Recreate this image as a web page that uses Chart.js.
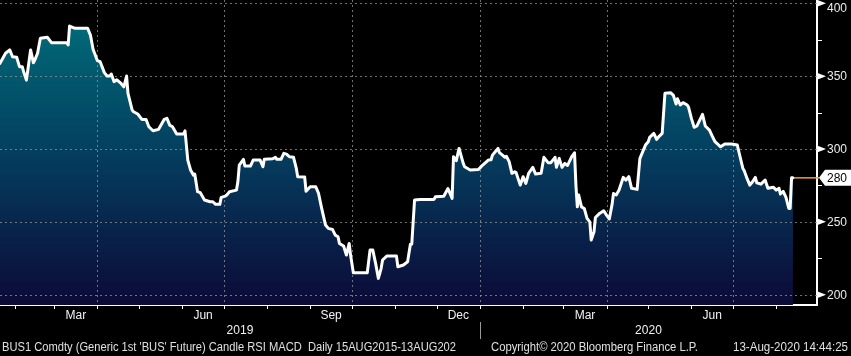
<!DOCTYPE html>
<html><head><meta charset="utf-8">
<script src="https://cdn.jsdelivr.net/npm/chart.js@4"></script>
<style>html,body{margin:0;padding:0;background:#000;overflow:hidden}#wrap{width:851px;height:356px;position:relative}</style>
</head><body><div id="wrap"><canvas id="c" width="851" height="356"></canvas></div>
<script>
// ---- data ----
const dates = [
'2019-01-21','2019-01-25','2019-01-28','2019-01-30',
'2019-02-02','2019-02-04','2019-02-06','2019-02-07','2019-02-09','2019-02-12','2019-02-14','2019-02-15','2019-02-17','2019-02-19','2019-02-24','2019-02-27',
'2019-03-10','2019-03-11','2019-03-12','2019-03-16','2019-03-25','2019-03-27','2019-03-29','2019-03-30',
'2019-04-01','2019-04-03','2019-04-06','2019-04-08','2019-04-10','2019-04-11','2019-04-13','2019-04-15','2019-04-18','2019-04-20','2019-04-22','2019-04-23','2019-04-26','2019-04-27','2019-04-30',
'2019-05-03','2019-05-06','2019-05-08','2019-05-11','2019-05-15','2019-05-19','2019-05-21','2019-05-23','2019-05-25','2019-05-28',
'2019-06-02','2019-06-03','2019-06-05','2019-06-07','2019-06-09','2019-06-10','2019-06-12','2019-06-14','2019-06-17','2019-06-21','2019-06-23','2019-06-25','2019-06-28','2019-06-29',
'2019-07-02','2019-07-03','2019-07-05','2019-07-10','2019-07-11','2019-07-12','2019-07-15','2019-07-16','2019-07-20','2019-07-22','2019-07-27','2019-07-29','2019-07-30',
'2019-08-05','2019-08-07','2019-08-08','2019-08-11','2019-08-13','2019-08-15','2019-08-17','2019-08-20','2019-08-22','2019-08-23','2019-08-28','2019-08-29',
'2019-09-01','2019-09-05','2019-09-07','2019-09-09','2019-09-12','2019-09-14','2019-09-17','2019-09-19','2019-09-21','2019-09-22','2019-09-25','2019-09-27','2019-09-29','2019-09-30',
'2019-10-02','2019-10-12','2019-10-14','2019-10-16','2019-10-18','2019-10-20','2019-10-22','2019-10-23','2019-10-26',
'2019-11-02','2019-11-03','2019-11-07','2019-11-10','2019-11-12','2019-11-13','2019-11-15','2019-11-19','2019-11-29','2019-11-30',
'2019-12-06','2019-12-09','2019-12-12','2019-12-13','2019-12-15','2019-12-17','2019-12-18','2019-12-20','2019-12-21','2019-12-25','2019-12-31',
'2020-01-03','2020-01-07','2020-01-09','2020-01-10','2020-01-12','2020-01-14','2020-01-15','2020-01-17','2020-01-19','2020-01-20','2020-01-22','2020-01-24','2020-01-26','2020-01-27','2020-01-30',
'2020-02-01','2020-02-03','2020-02-05','2020-02-08','2020-02-10','2020-02-14','2020-02-16','2020-02-19','2020-02-21','2020-02-24','2020-02-25','2020-02-27','2020-02-29',
'2020-03-02','2020-03-04','2020-03-07','2020-03-09','2020-03-10','2020-03-11','2020-03-12','2020-03-14','2020-03-16','2020-03-18','2020-03-20','2020-03-21','2020-03-23','2020-03-24','2020-03-27','2020-03-30',
'2020-04-01','2020-04-03','2020-04-05','2020-04-06','2020-04-08','2020-04-10','2020-04-13','2020-04-15','2020-04-17','2020-04-19','2020-04-23','2020-04-25','2020-04-26','2020-04-29',
'2020-05-01','2020-05-02','2020-05-05','2020-05-07','2020-05-09','2020-05-11','2020-05-13','2020-05-17','2020-05-19','2020-05-21','2020-05-22','2020-05-24','2020-05-26','2020-05-29','2020-05-30',
'2020-06-01','2020-06-03','2020-06-05','2020-06-07','2020-06-09','2020-06-11','2020-06-14','2020-06-16','2020-06-18','2020-06-22','2020-06-25','2020-06-30',
'2020-07-04','2020-07-06','2020-07-08','2020-07-09','2020-07-11','2020-07-13','2020-07-15','2020-07-17','2020-07-18','2020-07-21','2020-07-24','2020-07-26','2020-07-30',
'2020-08-01','2020-08-03','2020-08-04','2020-08-06','2020-08-08','2020-08-10','2020-08-11','2020-08-12','2020-08-13'
];
const values = [
358.8,365.7,368,363.3,
363,356.5,356.5,353,347.3,368,359.2,361,365.7,376,376.7,373,
373,371.4,384.4,382.8,382.8,378.2,368,365.7,
360.6,359.9,352.4,350.1,350.1,351.5,346.2,347.5,345,342.7,350.1,338.2,326.7,325.6,324,
320.3,320.3,315.3,312.5,313.5,320.3,321,316.4,315.3,310.3,
310.3,312.5,292.4,285.6,282.1,282.8,270.7,270,265,263.8,263.8,262,262,266.8,
267.7,268.4,270.7,271.8,277.5,289,292.9,288.3,288.3,292.4,292.4,287.8,292.9,
293.3,294.3,292.9,292.9,297,296.5,294.7,294.3,286.7,281,280.8,271,
274.1,274.1,269.5,260.3,247.8,245.5,244.8,240.9,239.8,235.2,233.4,227.2,235.2,227.2,
215,215,230.6,230.6,221.5,211.2,218.1,223.8,226.5,
226.5,219.2,220.4,222.6,234.7,234.7,265,265.4,265.4,267.2,
267.6,272.9,266.1,294.7,292,300.4,297,290.1,287.8,285.6,286,
289,292.4,292.6,295.8,298.1,300.4,297.5,296,294.3,295,291.3,283.3,284.4,283.8,275.2,
281,276.4,283.3,287.4,282.8,283.3,294.3,290.6,290.6,294.3,287.4,293.6,287.4,
290.1,288.7,294.7,297.4,275.2,260.3,268.4,260.3,259.2,252.4,250,237.5,243.2,253,255.8,257.6,
254.6,252,262,269.5,268.4,271.8,280.5,278.7,281,273,272.3,293.6,295.8,302.7,
305,308,310.7,306.6,308.9,310.7,338.2,338.6,337,330.9,334.5,330.2,331.8,330.2,328.6,
321,314.9,315.8,319.9,323.8,315.8,313,308.9,305,301.5,303.4,303.4,
302.7,294.7,286.7,285,279.8,275.2,277.5,280.5,276.8,275.9,278.7,273,273.7,
271.8,273,269.1,271,266.8,259.2,259.2,280.2,280.2
];
const yTicks = [200, 250, 300, 350, 400];
const yMinorTicks = [225, 275, 325, 375];
const monthTicks = ['2019-02-01','2019-03-01','2019-04-01','2019-05-01','2019-06-01','2019-07-01','2019-08-01','2019-09-01','2019-10-01','2019-11-01','2019-12-01',
  '2020-01-01','2020-02-01','2020-03-01','2020-04-01','2020-05-01','2020-06-01','2020-07-01','2020-08-01'];
const quarterGrid = ['2019-04-01','2019-07-01','2019-10-01','2020-01-01','2020-04-01','2020-07-01'];
const monthLabels = ['Mar','Jun','Sep','Dec','Mar','Jun'];
const monthLabelSpans = [['2019-03-01','2019-04-01'],['2019-06-01','2019-07-01'],['2019-09-01','2019-10-01'],['2019-12-01','2020-01-01'],['2020-03-01','2020-04-01'],['2020-06-01','2020-07-01']];
const yearLabels = ['2019','2020'];
const yearStarts = ['2019-01-01','2020-01-01','2021-01-01'];
const footerLeft = "BUS1 Comdty (Generic 1st 'BUS' Future) Candle RSI MACD  Daily 15AUG2015-13AUG202";
const footerMid = "Copyright\u00A9 2020 Bloomberg Finance L.P.";
const footerRight = "13-Aug-2020 14:44:25";

// ---- helpers / config ----
const dayNum = s => Date.parse(s) / 86400000;
const xMin = dayNum('2019-01-21');
const xMax = dayNum('2020-08-30') + 0.3;
const yMin = 192.93, yMax = 402.27;
const FONT = "'Liberation Sans', Arial, sans-serif";
const points = dates.map((d, i) => ({ x: dayNum(d), y: values[i] }));

function areaGradient(c) {
  const chart = c.chart, a = chart.chartArea;
  if (!a) return 'rgba(0,0,0,0)';
  const g = chart.ctx.createLinearGradient(0, a.top, 0, a.bottom);
  g.addColorStop(0, 'rgb(0,114,124)');
  g.addColorStop(0.5, 'rgb(4,62,95)');
  g.addColorStop(1, 'rgb(12,10,55)');
  return g;
}

const bbPlugin = {
  id: 'bb',
  beforeDatasetDraw(chart, args) {
    if (args.index !== 0) return; // draw grid just before the white line
    const { ctx, chartArea: a, scales: { x, y } } = chart;
    ctx.save();
    ctx.strokeStyle = 'rgba(150,150,150,0.75)';
    ctx.lineWidth = 1;
    ctx.setLineDash([2, 3]);
    yTicks.forEach(v => {
      const py = Math.round(y.getPixelForValue(v)) + 0.5;
      ctx.beginPath(); ctx.moveTo(a.left, py); ctx.lineTo(a.right, py); ctx.stroke();
    });
    quarterGrid.forEach(d => {
      const px = Math.round(x.getPixelForValue(dayNum(d))) + 0.5;
      ctx.beginPath(); ctx.moveTo(px, a.top); ctx.lineTo(px, a.bottom); ctx.stroke();
    });
    ctx.restore();
  },
  afterDraw(chart) {
    const { ctx, chartArea: a, scales: { x, y } } = chart;
    ctx.save();
    // x tick marks
    ctx.strokeStyle = '#ffffff'; ctx.lineWidth = 1;
    monthTicks.forEach(d => {
      const px = Math.round(x.getPixelForValue(dayNum(d))) + 0.5;
      ctx.beginPath(); ctx.moveTo(px, a.bottom); ctx.lineTo(px, a.bottom + 4); ctx.stroke();
    });
    // month labels
    ctx.fillStyle = '#f2f2f2';
    ctx.font = '12px ' + FONT;
    ctx.textAlign = 'center'; ctx.textBaseline = 'middle';
    monthLabels.forEach((t, i) => {
      const p0 = x.getPixelForValue(dayNum(monthLabelSpans[i][0]));
      const p1 = x.getPixelForValue(dayNum(monthLabelSpans[i][1]));
      ctx.fillText(t, (p0 + p1) / 2, a.bottom + 11);
    });
    // year labels
    yearLabels.forEach((t, i) => {
      const p0 = Math.max(a.left, x.getPixelForValue(dayNum(yearStarts[i])));
      const p1 = Math.min(a.right, x.getPixelForValue(dayNum(yearStarts[i + 1])));
      ctx.fillText(t, (p0 + p1) / 2, a.bottom + 26);
    });
    // year separator
    ctx.strokeStyle = '#9a9a9a';
    const sx = Math.round(x.getPixelForValue(dayNum(yearStarts[1]))) + 0.5;
    ctx.beginPath(); ctx.moveTo(sx, a.bottom + 17); ctx.lineTo(sx, a.bottom + 34); ctx.stroke();
    // y axis markers and labels
    ctx.fillStyle = '#ffffff';
    yTicks.forEach(v => {
      const py = y.getPixelForValue(v);
      ctx.beginPath(); ctx.moveTo(a.right, py - 3.5); ctx.lineTo(a.right + 9, py); ctx.lineTo(a.right, py + 3.5); ctx.closePath(); ctx.fill();
    });
    ctx.fillStyle = '#ececec'; ctx.textAlign = 'left';
    yTicks.forEach(v => {
      const py = Math.max(8.5, y.getPixelForValue(v));
      ctx.fillText(String(v), a.right + 10, py + 0.5);
    });
    ctx.strokeStyle = '#ffffff';
    yMinorTicks.forEach(v => {
      const py = Math.round(y.getPixelForValue(v)) + 0.5;
      ctx.beginPath(); ctx.moveTo(a.right, py); ctx.lineTo(a.right + 5, py); ctx.stroke();
    });
    // last value marker
    const lastV = values[values.length - 1];
    const lastX = x.getPixelForValue(dayNum(dates[dates.length - 1]));
    const ly = y.getPixelForValue(lastV);
    ctx.strokeStyle = '#f0a030'; ctx.lineWidth = 1.5;
    ctx.beginPath(); ctx.moveTo(lastX + 1, ly); ctx.lineTo(a.right + 2, ly); ctx.stroke();
    ctx.fillStyle = '#ffffff';
    ctx.beginPath();
    ctx.moveTo(a.right + 2, ly); ctx.lineTo(a.right + 8, ly - 8); ctx.lineTo(chart.width, ly - 8);
    ctx.lineTo(chart.width, ly + 8); ctx.lineTo(a.right + 8, ly + 8); ctx.closePath(); ctx.fill();
    ctx.fillStyle = '#000000'; ctx.textAlign = 'left';
    ctx.fillText(String(Math.round(lastV)), a.right + 10, ly + 0.5);
    // footer
    ctx.fillStyle = '#e0e0e0';
    ctx.textAlign = 'left';
    ctx.fillText(footerLeft, 2, a.bottom + 43, 454);
    ctx.fillText(footerMid, 491, a.bottom + 43, 207);
    ctx.textAlign = 'right';
    ctx.fillText(footerRight, chart.width - 3, a.bottom + 43, 115);
    ctx.restore();
  }
};

new Chart(document.getElementById('c'), {
  type: 'line',
  data: {
    datasets: [
      { label: 'BUS1', data: points, borderColor: '#ffffff', borderWidth: 3, pointRadius: 0, fill: false,
        tension: 0, borderJoinStyle: 'round', borderCapStyle: 'round', order: 0 },
      { label: 'area', data: points, borderWidth: 0, borderColor: 'rgba(0,0,0,0)', pointRadius: 0,
        fill: 'start', backgroundColor: areaGradient, tension: 0, order: 1 }
    ]
  },
  options: {
    responsive: false, animation: false, events: [],
    layout: { padding: 0 },
    plugins: { legend: { display: false }, tooltip: { enabled: false } },
    scales: {
      x: {
        type: 'linear', min: xMin, max: xMax,
        grid: { display: false, drawTicks: false },
        ticks: { display: false },
        border: { display: true, color: '#ffffff', width: 2 },
        afterBuildTicks: s => { s.ticks = monthTicks.map(d => ({ value: dayNum(d) })); },
        afterFit: s => { s.height = 51; s.paddingLeft = 0; s.paddingRight = 0; s.paddingTop = 0; s.paddingBottom = 0; }
      },
      y: {
        position: 'right', min: yMin, max: yMax,
        grid: { display: false, drawTicks: false },
        border: { display: true, color: '#ffffff', width: 2 },
        ticks: { display: false },
        afterBuildTicks: s => { s.ticks = yTicks.map(v => ({ value: v })); },
        afterFit: s => { s.width = 34; s.paddingTop = 0; s.paddingBottom = 0; s.paddingLeft = 0; s.paddingRight = 0; }
      }
    }
  },
  plugins: [bbPlugin]
});
</script>
</body></html>
